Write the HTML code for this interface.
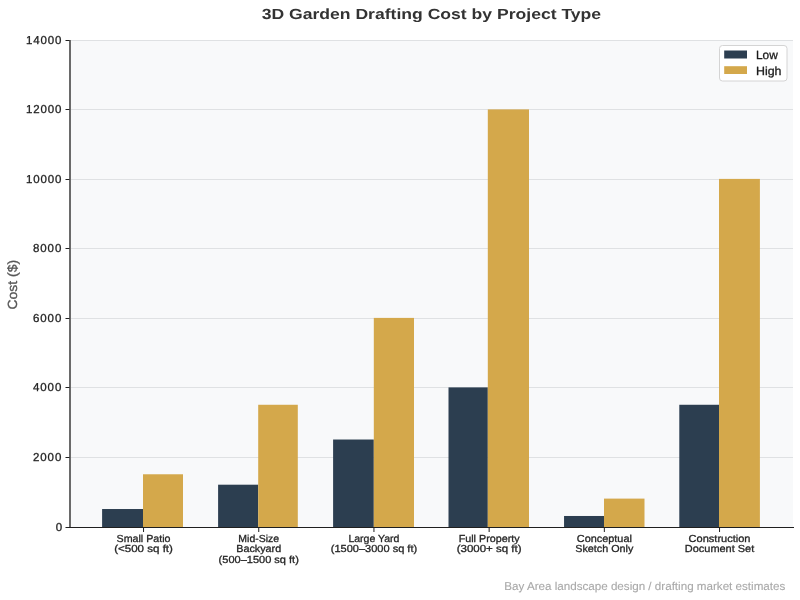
<!DOCTYPE html>
<html><head><meta charset="utf-8"><title>3D Garden Drafting Cost by Project Type</title>
<style>html,body{margin:0;padding:0;background:#fff;width:800px;height:600px;overflow:hidden}svg{display:block}#c{position:absolute;left:0;top:0;width:800px;height:600px;will-change:transform}text{font-family:"Liberation Sans",sans-serif;text-rendering:geometricPrecision}</style></head>
<body><div id="c"><svg width="800" height="600" viewBox="0 0 800 600">
<rect x="0" y="0" width="800" height="600" fill="#fff"/>
<rect x="70" y="40" width="723" height="487" fill="#f8f9fa"/>
<rect x="70" y="457" width="723" height="1" fill="#dfe1e3"/>
<rect x="70" y="387" width="723" height="1" fill="#dfe1e3"/>
<rect x="70" y="318" width="723" height="1" fill="#dfe1e3"/>
<rect x="70" y="248" width="723" height="1" fill="#dfe1e3"/>
<rect x="70" y="179" width="723" height="1" fill="#dfe1e3"/>
<rect x="70" y="109" width="723" height="1" fill="#dfe1e3"/>
<rect x="70" y="40" width="723" height="1" fill="#dfe1e3"/>
<rect x="102.10" y="509.02" width="40.90" height="17.98" fill="#2c3e50"/>
<rect x="143.00" y="474.27" width="40.00" height="52.73" fill="#d4a84b"/>
<rect x="218.10" y="484.70" width="40.10" height="42.30" fill="#2c3e50"/>
<rect x="258.20" y="404.77" width="39.60" height="122.23" fill="#d4a84b"/>
<rect x="333.10" y="439.52" width="40.70" height="87.48" fill="#2c3e50"/>
<rect x="373.80" y="317.90" width="40.20" height="209.10" fill="#d4a84b"/>
<rect x="448.50" y="387.40" width="39.30" height="139.60" fill="#2c3e50"/>
<rect x="487.80" y="109.40" width="41.20" height="417.60" fill="#d4a84b"/>
<rect x="564.05" y="515.98" width="39.95" height="11.02" fill="#2c3e50"/>
<rect x="604.00" y="498.60" width="40.50" height="28.40" fill="#d4a84b"/>
<rect x="679.30" y="404.77" width="39.70" height="122.23" fill="#2c3e50"/>
<rect x="719.00" y="178.90" width="40.90" height="348.10" fill="#d4a84b"/>
<rect x="69" y="40" width="2" height="488" fill="#6a6a6a"/>
<rect x="69" y="527" width="725" height="1" fill="#1f1f1f"/>
<rect x="65.5" y="527" width="4" height="1" fill="#1f1f1f"/>
<text x="62.10" y="531.00" font-size="11.50" fill="#1f1f1f" stroke="#1f1f1f" stroke-width="0.3" text-anchor="end" textLength="7.06" lengthAdjust="spacing">0</text>
<rect x="65.5" y="457" width="4" height="1" fill="#1f1f1f"/>
<text x="61.30" y="461.00" font-size="11.50" fill="#1f1f1f" stroke="#1f1f1f" stroke-width="0.3" text-anchor="end" textLength="28.25" lengthAdjust="spacing">2000</text>
<rect x="65.5" y="387" width="4" height="1" fill="#1f1f1f"/>
<text x="61.30" y="391.00" font-size="11.50" fill="#1f1f1f" stroke="#1f1f1f" stroke-width="0.3" text-anchor="end" textLength="28.25" lengthAdjust="spacing">4000</text>
<rect x="65.5" y="318" width="4" height="1" fill="#1f1f1f"/>
<text x="61.30" y="322.00" font-size="11.50" fill="#1f1f1f" stroke="#1f1f1f" stroke-width="0.3" text-anchor="end" textLength="28.25" lengthAdjust="spacing">6000</text>
<rect x="65.5" y="248" width="4" height="1" fill="#1f1f1f"/>
<text x="61.30" y="252.00" font-size="11.50" fill="#1f1f1f" stroke="#1f1f1f" stroke-width="0.3" text-anchor="end" textLength="28.25" lengthAdjust="spacing">8000</text>
<rect x="65.5" y="179" width="4" height="1" fill="#1f1f1f"/>
<text x="61.30" y="183.00" font-size="11.50" fill="#1f1f1f" stroke="#1f1f1f" stroke-width="0.3" text-anchor="end" textLength="35.31" lengthAdjust="spacing">10000</text>
<rect x="65.5" y="109" width="4" height="1" fill="#1f1f1f"/>
<text x="61.30" y="113.00" font-size="11.50" fill="#1f1f1f" stroke="#1f1f1f" stroke-width="0.3" text-anchor="end" textLength="35.31" lengthAdjust="spacing">12000</text>
<rect x="65.5" y="40" width="4" height="1" fill="#1f1f1f"/>
<text x="61.30" y="44.00" font-size="11.50" fill="#1f1f1f" stroke="#1f1f1f" stroke-width="0.3" text-anchor="end" textLength="35.31" lengthAdjust="spacing">14000</text>
<rect x="143.04" y="528" width="1" height="4" fill="#1f1f1f"/>
<text x="143.54" y="542.10" font-size="10.20" fill="#262626" stroke="#262626" stroke-width="0.3" text-anchor="middle" textLength="53.94" lengthAdjust="spacingAndGlyphs">Small Patio</text>
<text x="143.54" y="552.40" font-size="10.20" fill="#262626" stroke="#262626" stroke-width="0.3" text-anchor="middle" textLength="58.78" lengthAdjust="spacingAndGlyphs">(&lt;500 sq ft)</text>
<rect x="258.24" y="528" width="1" height="4" fill="#1f1f1f"/>
<text x="258.74" y="542.10" font-size="10.20" fill="#262626" stroke="#262626" stroke-width="0.3" text-anchor="middle" textLength="40.72" lengthAdjust="spacingAndGlyphs">Mid-Size</text>
<text x="258.74" y="552.40" font-size="10.20" fill="#262626" stroke="#262626" stroke-width="0.3" text-anchor="middle" textLength="44.95" lengthAdjust="spacingAndGlyphs">Backyard</text>
<text x="258.74" y="563.40" font-size="10.20" fill="#262626" stroke="#262626" stroke-width="0.3" text-anchor="middle" textLength="80.25" lengthAdjust="spacingAndGlyphs">(500–1500 sq ft)</text>
<rect x="373.44" y="528" width="1" height="4" fill="#1f1f1f"/>
<text x="373.94" y="542.10" font-size="10.20" fill="#262626" stroke="#262626" stroke-width="0.3" text-anchor="middle" textLength="51.00" lengthAdjust="spacingAndGlyphs">Large Yard</text>
<text x="373.94" y="552.40" font-size="10.20" fill="#262626" stroke="#262626" stroke-width="0.3" text-anchor="middle" textLength="86.44" lengthAdjust="spacingAndGlyphs">(1500–3000 sq ft)</text>
<rect x="488.64" y="528" width="1" height="4" fill="#1f1f1f"/>
<text x="489.14" y="542.10" font-size="10.20" fill="#262626" stroke="#262626" stroke-width="0.3" text-anchor="middle" textLength="60.86" lengthAdjust="spacingAndGlyphs">Full Property</text>
<text x="489.14" y="552.40" font-size="10.20" fill="#262626" stroke="#262626" stroke-width="0.3" text-anchor="middle" textLength="64.97" lengthAdjust="spacingAndGlyphs">(3000+ sq ft)</text>
<rect x="603.84" y="528" width="1" height="4" fill="#1f1f1f"/>
<text x="604.34" y="542.10" font-size="10.20" fill="#262626" stroke="#262626" stroke-width="0.3" text-anchor="middle" textLength="55.02" lengthAdjust="spacingAndGlyphs">Conceptual</text>
<text x="604.34" y="552.40" font-size="10.20" fill="#262626" stroke="#262626" stroke-width="0.3" text-anchor="middle" textLength="58.11" lengthAdjust="spacingAndGlyphs">Sketch Only</text>
<rect x="719.04" y="528" width="1" height="4" fill="#1f1f1f"/>
<text x="719.54" y="542.10" font-size="10.20" fill="#262626" stroke="#262626" stroke-width="0.3" text-anchor="middle" textLength="61.89" lengthAdjust="spacingAndGlyphs">Construction</text>
<text x="719.54" y="552.40" font-size="10.20" fill="#262626" stroke="#262626" stroke-width="0.3" text-anchor="middle" textLength="69.42" lengthAdjust="spacingAndGlyphs">Document Set</text>
<text x="431.40" y="19.20" font-size="14.70" font-weight="bold" fill="#333" text-anchor="middle" textLength="339.45" lengthAdjust="spacingAndGlyphs">3D Garden Drafting Cost by Project Type</text>
<text x="0.00" y="0.00" font-size="13.30" fill="#555" stroke="#555" stroke-width="0.3" text-anchor="middle" textLength="49.83" lengthAdjust="spacingAndGlyphs" transform="translate(17.4,284.7) rotate(-90)">Cost ($)</text>
<rect x="719.5" y="45.5" width="67.5" height="35.5" rx="3" ry="3" fill="#fff" stroke="#d4d4d4" stroke-width="1"/>
<rect x="724.2" y="50.5" width="22.8" height="8" fill="#2c3e50"/>
<rect x="724.2" y="66.2" width="22.8" height="7.8" fill="#d4a84b"/>
<text x="756.00" y="58.50" font-size="11.90" fill="#1a1a1a" stroke="#1a1a1a" stroke-width="0.3" text-anchor="start" textLength="21.86" lengthAdjust="spacingAndGlyphs">Low</text>
<text x="756.00" y="74.50" font-size="11.90" fill="#1a1a1a" stroke="#1a1a1a" stroke-width="0.3" text-anchor="start" textLength="25.50" lengthAdjust="spacingAndGlyphs">High</text>
<text x="785.30" y="589.70" font-size="11.40" fill="#a8a8a8" stroke="#a8a8a8" stroke-width="0.1" text-anchor="end" textLength="281.00" lengthAdjust="spacingAndGlyphs">Bay Area landscape design / drafting market estimates</text>
</svg></div></body></html>
